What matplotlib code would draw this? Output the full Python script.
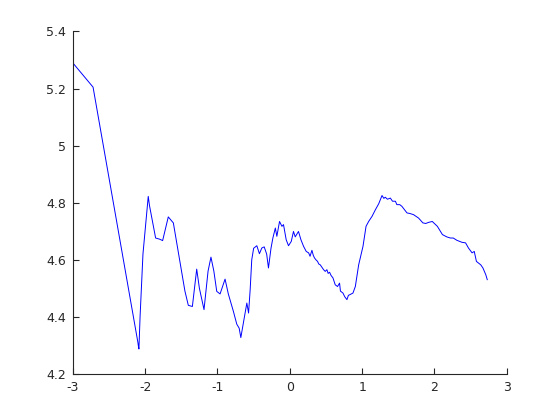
import numpy as np
import matplotlib
matplotlib.use("Agg")
import matplotlib.pyplot as plt

# values
x = [-3.0, -2.72, -2.10, -2.095, -2.086, -2.07, -2.03, -1.957, -1.94, -1.855, -1.80, -1.758,
     -1.68, -1.61, -1.55, -1.45, -1.403, -1.347, -1.287, -1.25, -1.186, -1.13, -1.09,
     -1.05, -1.01, -0.964, -0.895, -0.85, -0.78, -0.733, -0.70, -0.677, -0.64, -0.594,
     -0.57, -0.548, -0.526, -0.50, -0.456, -0.42, -0.387, -0.354, -0.32, -0.295,
     -0.26, -0.234, -0.20, -0.179, -0.142, -0.109, -0.087, -0.05, -0.018, 0.02,
     0.051, 0.075, 0.098, 0.12, 0.154, 0.19, 0.227, 0.26, 0.28, 0.306, 0.325, 0.342,
     0.36, 0.384, 0.40, 0.421, 0.44, 0.467, 0.49, 0.513, 0.53, 0.55, 0.57, 0.597,
     0.628, 0.66, 0.688, 0.70, 0.735, 0.76, 0.79, 0.81, 0.827, 0.873, 0.906, 0.952,
     1.012, 1.054, 1.09, 1.137, 1.183, 1.229, 1.275, 1.30, 1.32, 1.35, 1.39, 1.42,
     1.46, 1.48, 1.52, 1.55, 1.62, 1.66, 1.71, 1.78, 1.84, 1.88, 1.92, 1.97, 2.04,
     2.11, 2.17, 2.22, 2.26, 2.31, 2.38, 2.43, 2.47, 2.52, 2.55, 2.58, 2.64, 2.67,
     2.71, 2.73]
y = [5.29, 5.205, 4.31, 4.30, 4.287, 4.40, 4.62, 4.822, 4.79, 4.676, 4.672, 4.667,
     4.75, 4.729, 4.64, 4.49, 4.44, 4.436, 4.567, 4.50, 4.425, 4.56, 4.609,
     4.56, 4.489, 4.48, 4.532, 4.48, 4.419, 4.374, 4.36, 4.327, 4.38, 4.448,
     4.413, 4.495, 4.60, 4.64, 4.649, 4.621, 4.641, 4.645, 4.62, 4.571,
     4.64, 4.676, 4.711, 4.682, 4.734, 4.717, 4.723, 4.67, 4.649, 4.664,
     4.699, 4.68, 4.69, 4.699, 4.67, 4.647, 4.629, 4.624, 4.612, 4.633, 4.615, 4.606,
     4.60, 4.594, 4.585, 4.582, 4.575, 4.565, 4.559, 4.565, 4.552, 4.556, 4.545, 4.536,
     4.512, 4.506, 4.518, 4.49, 4.483, 4.47, 4.46, 4.475, 4.477, 4.483, 4.506, 4.582,
     4.647, 4.717, 4.734, 4.752, 4.775, 4.796, 4.825, 4.815, 4.819, 4.812, 4.816, 4.805,
     4.805, 4.793, 4.793, 4.787, 4.764, 4.762, 4.758, 4.746, 4.729, 4.727, 4.731, 4.734, 4.717,
     4.688, 4.68, 4.676, 4.676, 4.668, 4.661, 4.659, 4.641, 4.624, 4.629, 4.594, 4.582, 4.571,
     4.547, 4.53]

xticks = [-3, -2, -1, 0, 1, 2, 3]
yticks = [4.2, 4.4, 4.6, 4.8, 5.0, 5.2, 5.4]
yticklabels = ["4.2", "4.4", "4.6", "4.8", "5", "5.2", "5.4"]

fig = plt.figure(figsize=(5.6, 4.2), dpi=100)
ax = fig.add_axes([0.13, 0.11, 0.775, 0.815])
ax.plot(x, y, color=(0, 0, 1), linewidth=0.7)

ax.set_xlim(-3, 3)
ax.set_ylim(4.2, 5.4)
ax.set_xticks(xticks)
ax.set_xticklabels([str(t) for t in xticks])
ax.set_yticks(yticks)
ax.set_yticklabels(yticklabels)

for s in ["top", "right"]:
    ax.spines[s].set_visible(False)
for s in ["left", "bottom"]:
    ax.spines[s].set_color("#262626")
    ax.spines[s].set_linewidth(0.8)
ax.tick_params(direction="in", length=4, width=0.8, color="#262626",
               labelcolor="#262626", labelsize=9, pad=5)

fig.savefig("out.png", dpi=100)
